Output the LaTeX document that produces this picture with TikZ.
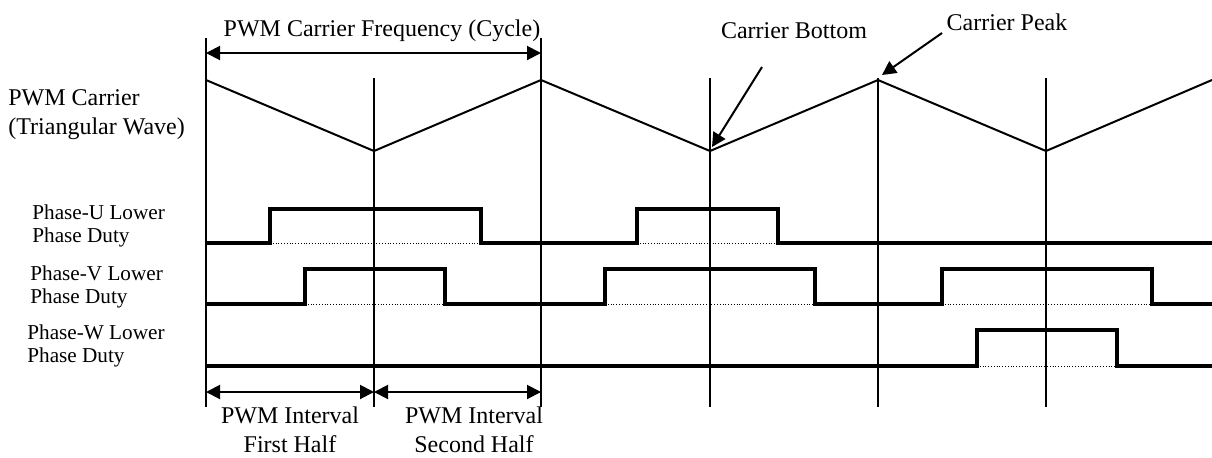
\documentclass[tikz,border=0pt]{standalone}
\usepackage{fontspec}
\setmainfont{Liberation Serif}
\usetikzlibrary{arrows.meta}

\tikzset{
  vline/.style={line width=1pt},
  wave/.style={line width=1pt, line join=miter},
  sig/.style={line width=2.2pt, line join=miter},
  lowref/.style={line width=0.4pt, densely dotted},
  dimarrow/.style={line width=1pt, {Triangle[length=7pt,width=7pt]}-{Triangle[length=7pt,width=7pt]}},
  pointer/.style={line width=1pt, -{Triangle[length=7pt,width=7pt]}},
  lbl/.style={font=\fontsize{12}{14.5}\selectfont, inner sep=0pt},
  phaselbl/.style={font=\fontsize{10.6}{11.8}\selectfont, inner sep=0pt, align=left, anchor=west},
}

\begin{document}
\begin{tikzpicture}[x=0.5pt,y=-0.5pt]
    \useasboundingbox (0,0) rectangle (1212,457);

    % grid lines
    \draw[vline] (206,38) -- (206,407);
    \draw[vline] (541,38) -- (541,407);
    \foreach \x in {374,710,878,1046}
        \draw[vline] (\x,78) -- (\x,407);

    % carrier
    \draw[wave] (206,80) -- (374,151) -- (541,80) -- (710,151) -- (878,80) -- (1046,151) -- (1212,80);

    % phase U
    \draw[lowref] (270,243) -- (481,243);
    \draw[lowref] (637,243) -- (778,243);
    \draw[sig] (206,243) -- (270,243) -- (270,209) -- (481,209) -- (481,243) -- (637,243)
        -- (637,209) -- (778,209) -- (778,243) -- (1212,243);

    % phase V
    \draw[lowref] (305,304) -- (445,304);
    \draw[lowref] (605,304) -- (815,304);
    \draw[lowref] (942,304) -- (1152,304);
    \draw[sig] (206,304) -- (305,304) -- (305,269) -- (445,269) -- (445,304) -- (605,304)
        -- (605,269) -- (815,269) -- (815,304) -- (942,304) -- (942,269) -- (1152,269)
        -- (1152,304) -- (1212,304);

    % phase W
    \draw[lowref] (977,366) -- (1117,366);
    \draw[sig] (206,366) -- (977,366) -- (977,330) -- (1117,330) -- (1117,366) -- (1212,366);

    % labels
    \node[lbl, align=left, anchor=west] (carrier) at (8,115) {PWM Carrier\\(Triangular Wave)};
    \node[phaselbl] (phu) at (32,226) {Phase-U Lower\\Phase Duty};
    \node[phaselbl] (phv) at (30,287) {Phase-V Lower\\Phase Duty};
    \node[phaselbl] (phw) at (27,346) {Phase-W Lower\\Phase Duty};

    % carrier cycle
    \coordinate (cyc0) at (206,53);
    \coordinate (cyc1) at (541,53);
    \draw[dimarrow] (cyc0) -- (cyc1);
    \node[lbl] (cyclbl) at (382,31) {PWM Carrier Frequency (Cycle)};

    % bottom and peak pointers
    \node[lbl] (botlbl) at (794,31) {Carrier Bottom};
    \coordinate (bot0) at (762,67);
    \coordinate (bot1) at (712,147);
    \draw[pointer] (bot0) -- (bot1);
    \node[lbl] (pklbl) at (1007,22) {Carrier Peak};
    \coordinate (pk0) at (942,33);
    \coordinate (pk1) at (882,75);
    \draw[pointer] (pk0) -- (pk1);

    % half intervals
    \coordinate (hf0) at (206,392);
    \coordinate (hf1) at (374,392);
    \coordinate (hf2) at (541,392);
    \draw[dimarrow] (hf0) -- (hf1);
    \draw[dimarrow] (hf1) -- (hf2);
    \node[lbl, align=center] (firstlbl) at (290,430) {PWM Interval\\First Half};
    \node[lbl, align=center] (secondlbl) at (474,430) {PWM Interval\\Second Half};
\end{tikzpicture}
\end{document}
